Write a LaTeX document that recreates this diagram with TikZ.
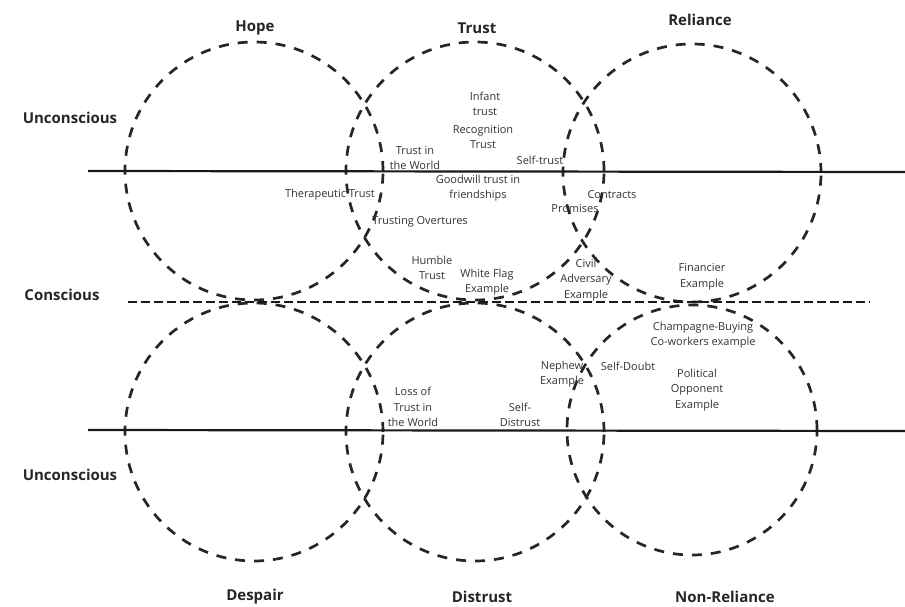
\documentclass[tikz,border=0pt]{standalone}
\usepackage{fontspec}
\setmainfont{Open Sans}
\begin{document}
\begin{tikzpicture}[x=1pt,y=-1pt]
			\tikzset{cercle/.style={circle, draw=black!85, line width=2.7pt, dash pattern=on 10pt off 9pt, minimum size=258pt, inner sep=0pt},
				titre/.style={font=\fontsize{15}{17}\selectfont\bfseries, text=black!85},
				texte/.style={font=\fontsize{11}{15.5}\selectfont, text=black!80, align=center, inner sep=1pt},
				ligne/.style={line width=2.2pt, black!90}};

			\useasboundingbox (0,0) rectangle (905,607);

			% cercles
			\node[cercle] (hope)     at (254, 171) {};
			\node[cercle] (trust)    at (475, 171) {};
			\node[cercle] (reliance) at (692, 173) {};
			\node[cercle] (despair)  at (254, 432) {};
			\node[cercle] (distrust) at (475, 432) {};
			\node[cercle, minimum size=250pt] (nonrel) at (692, 430) {};

			% lignes
			\coordinate (l1a) at ( 88, 171);
			\coordinate (l1b) at (905, 172);
			\coordinate (l2a) at (128, 302);
			\coordinate (l2b) at (870, 302);
			\coordinate (l3a) at ( 88, 430);
			\coordinate (l3b) at (905, 431);
			\draw[ligne] (l1a) -- (l1b);
			\draw[ligne, line width=2.8pt, dash pattern=on 9pt off 4pt] (l2a) -- (l2b);
			\draw[ligne] (l3a) -- (l3b);

			% titres
			\node[titre] (thope)     at (255,  28) {Hope};
			\node[titre] (ttrust)    at (477,  28) {Trust};
			\node[titre] (treliance) at (700,  20) {Reliance};
			\node[titre] (tdespair)  at (255, 597) {Despair};
			\node[titre] (tdistrust) at (482, 597) {Distrust};
			\node[titre] (tnonrel)   at (725, 597) {Non-Reliance};
			\node[titre] (uncons1)   at ( 70, 118) {Unconscious};
			\node[titre] (cons)      at ( 62, 295) {Conscious};
			\node[titre] (uncons2)   at ( 70, 475) {Unconscious};

			% textes
			\node[texte] (infant)    at (485, 104) {Infant\\trust};
			\node[texte] (recog)     at (483, 137) {Recognition\\Trust};
			\node[texte] (tworld)    at (415, 158) {Trust in\\the World};
			\node[texte] (selftrust) at (540, 160) {Self-trust};
			\node[texte] (goodwill)  at (478, 188) {Goodwill trust in\\friendships};
			\node[texte] (therap)    at (330, 195) {Therapeutic Trust};
			\node[texte] (contracts) at (612, 195) {Contracts};
			\node[texte] (promises)  at (575, 209) {Promises};
			\node[texte] (overtures) at (420, 222) {Trusting Overtures};
			\node[texte] (humble)    at (432, 268) {Humble\\Trust};
			\node[texte] (whiteflag) at (487, 282) {White Flag\\Example};
			\node[texte] (civil)     at (586, 280) {Civil\\Adversary\\Example};
			\node[texte] (financier) at (702, 277) {Financier\\Example};
			\node[texte] (champagne) at (703, 335) {Champagne-Buying\\Co-workers example};
			\node[texte] (nephew)    at (562, 374) {Nephew\\Example};
			\node[texte] (selfdoubt) at (628, 366) {Self-Doubt};
			\node[texte] (political) at (697, 390) {Political\\Opponent\\Example};
			\node[texte] (lossworld) at (413, 407) {Loss of\\Trust in\\the World};
			\node[texte] (selfdis)   at (520, 415) {Self-\\Distrust};

		\end{tikzpicture}
\end{document}
